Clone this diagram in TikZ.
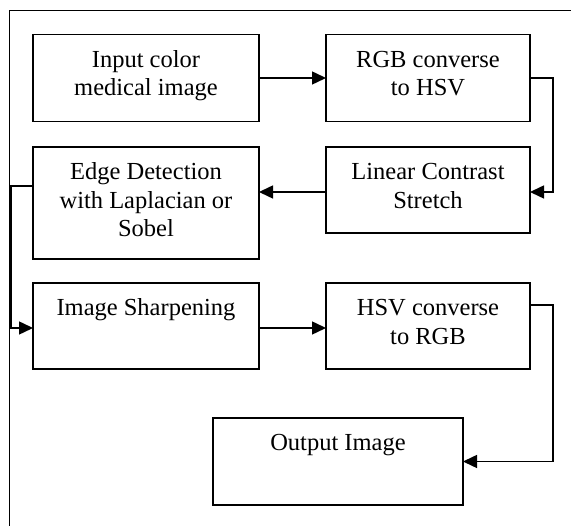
\documentclass[tikz,border=0pt]{standalone}
\usepackage{fontspec}
\setmainfont{Liberation Serif}
\usetikzlibrary{arrows.meta,calc}
\newcommand{\boxtext}[3]{\parbox[c][#2][t]{#1}{\centering\fontsize{24.5}{28.5}\selectfont\rule{0pt}{33pt}#3}}
\begin{document}
\begin{tikzpicture}[x=1pt,y=-1pt,
  blk/.style={draw, line width=1.6pt, rectangle, inner sep=0pt, outer sep=0pt},
  conn/.style={line width=1.5pt},
  arr/.style={conn, -{Triangle[length=14pt,width=13pt]}}]
\useasboundingbox (0,0) rectangle (571,526);
% frame
\draw[conn] (9.5,526) -- (9.5,10.5) -- (571,10.5);
% boxes
\node[blk] (b1) at (146,78) {\boxtext{226pt}{87pt}{Input color\\medical image}};
\node[blk] (b2) at (428,78) {\boxtext{204pt}{87pt}{RGB converse\\to HSV}};
\node[blk] (b3) at (428,190) {\boxtext{204pt}{86pt}{Linear Contrast\\Stretch}};
\node[blk] (b4) at (146,203) {\boxtext{226pt}{112pt}{Edge Detection\\with Laplacian or\\Sobel}};
\node[blk] (b5) at (146,326) {\boxtext{226pt}{86pt}{Image Sharpening}};
\node[blk] (b6) at (428,326) {\boxtext{204pt}{86pt}{HSV converse\\to RGB}};
\node[blk] (b7) at (338,461.5) {\boxtext{250pt}{87pt}{Output Image}};
% connectors
\draw[arr] (b1.east) -- (b2.west);
\draw[arr] (b2.east) -- ++(23,0) |- ($(b3.east)+(0,2)$);
\draw[arr] ($(b3.west)+(0,2)$) -- ($(b3.west -| b4.east)+(0,2)$);
\draw[arr] ($(b4.north west)+(0,39)$) -- ++(-22,0) |- ($(b5.west)+(0,2)$);
\draw[arr] ($(b5.east)+(0,2)$) -- ($(b6.west)+(0,2)$);
\draw[arr] ($(b6.north east)+(0,22)$) -- ++(23,0) |- (b7.east);
\end{tikzpicture}
\end{document}
